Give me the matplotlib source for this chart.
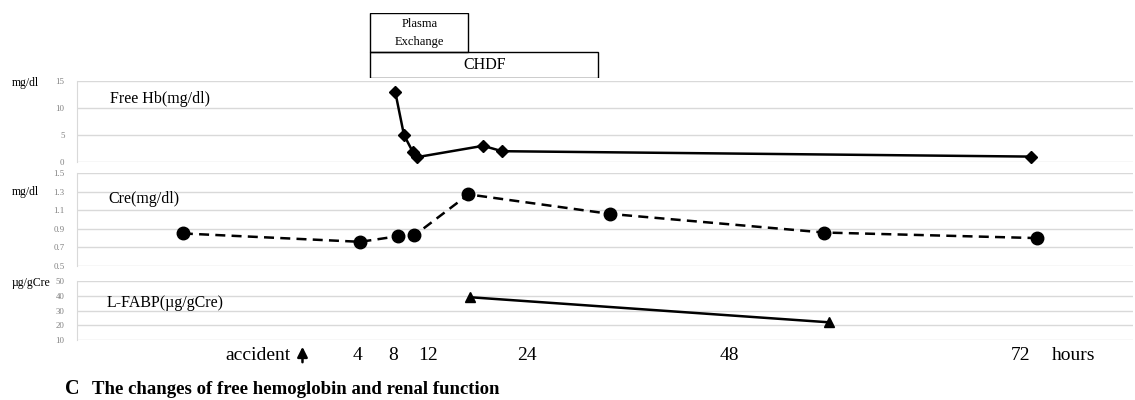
import numpy as np
import matplotlib
matplotlib.use("Agg")
import matplotlib.pyplot as plt
from matplotlib.patches import Rectangle
import matplotlib.transforms as mtransforms

plt.rcParams['font.family'] = ['Liberation Serif', 'DejaVu Serif']

# ---- data (time in hours after accident) ----
hb_hours = [8.2, 9.2, 10.2, 10.7, 18.7, 21.0, 72.9]
hb_vals = [13.0, 5.0, 1.9, 0.9, 3.0, 2.0, 1.0]

cre_hours = [-8.7, 4.3, 8.5, 10.4, 16.9, 33.9, 55.8, 73.4]
cre_vals = [0.85, 0.76, 0.82, 0.83, 1.27, 1.06, 0.86, 0.80]

lfabp_hours = [17.1, 56.2]
lfabp_vals = [39, 22]

tick_hours = [4, 8, 12, 24, 48, 72]
tick_labels = ['4', '8', '12', '24', '48', '72']

plasma_span = (5.4, 16.9)
chdf_span = (5.4, 32.5)

# ---- nonlinear time axis (as drawn in the original) ----
anchor_h = np.array([-20, 0, 4, 8, 12, 24, 48, 72, 100], float)
anchor_p = np.array([27, 302, 357, 393, 428, 526, 729, 1020, 1359], float)

def fwd(x):
    return np.interp(x, anchor_h, anchor_p)

def inv(x):
    return np.interp(x, anchor_p, anchor_h)

XLIM = (-16.4, 81.3)

W, H = 1135, 400
fig = plt.figure(figsize=(W / 100, H / 100), dpi=100)

def ax_rect(left, top, right, bottom):
    return [left / W, 1 - bottom / H, (right - left) / W, (bottom - top) / H]

grid_c = '#d9d9d9'
tick_c = '#7f7f7f'

def style(ax, ylim, yticks, yfmt):
    ax.set_xscale('function', functions=(fwd, inv))
    ax.set_xlim(*XLIM)
    ax.set_ylim(*ylim)
    ax.set_yticks(yticks)
    ax.set_yticklabels([yfmt(v) for v in yticks], fontsize=6.3, color=tick_c)
    ax.tick_params(axis='y', length=0, pad=9)
    ax.set_xticks([])
    ax.grid(axis='y', color=grid_c, lw=1)
    for s in ['top', 'right', 'bottom']:
        ax.spines[s].set_visible(False)
    ax.spines['left'].set_color(grid_c)
    ax.set_axisbelow(True)

ax1 = fig.add_axes(ax_rect(77, 81, 1133, 162))
ax2 = fig.add_axes(ax_rect(77, 173, 1133, 266))
ax3 = fig.add_axes(ax_rect(77, 281, 1133, 340))

style(ax1, (0, 15), [0, 5, 10, 15], lambda v: f'{v:g}')
style(ax2, (0.5, 1.5), [0.5, 0.7, 0.9, 1.1, 1.3, 1.5], lambda v: f'{v:.1f}')
style(ax3, (10, 50), [10, 20, 30, 40, 50], lambda v: f'{v:g}')

ax1.plot(hb_hours, hb_vals, color='black', lw=1.8, marker='D', ms=6,
         clip_on=False)
ax2.plot(cre_hours, cre_vals, color='black', lw=1.8, ls=(0, (4, 2.5)),
         marker='o', ms=9, clip_on=False)
ax3.plot(lfabp_hours, lfabp_vals, color='black', lw=1.8, marker='^', ms=7.5,
         clip_on=False)

lab_fs = 11.5
ax1.text(110 / W, 1 - 99 / H, 'Free Hb(mg/dl)', transform=fig.transFigure,
         fontsize=lab_fs, va='center', ha='left')
ax2.text(108 / W, 1 - 199 / H, 'Cre(mg/dl)', transform=fig.transFigure,
         fontsize=lab_fs, va='center', ha='left')
ax3.text(107 / W, 1 - 303 / H, 'L-FABP(µg/gCre)', transform=fig.transFigure,
         fontsize=lab_fs, va='center', ha='left')

# unit labels
fig.text(12 / W, 1 - 83 / H, 'mg/dl', fontsize=8.5, va='center', ha='left')
fig.text(12 / W, 1 - 192 / H, 'mg/dl', fontsize=8.5, va='center', ha='left')
fig.text(12 / W, 1 - 283 / H, 'µg/gCre', fontsize=8.5, va='center', ha='left')

# treatment boxes
axb = fig.add_axes(ax_rect(77, 13, 1133, 78))
axb.set_xscale('function', functions=(fwd, inv))
axb.set_xlim(*XLIM)
axb.set_ylim(0, 1)
axb.axis('off')
split = 26 / 65
axb.add_patch(Rectangle((plasma_span[0], split), plasma_span[1] - plasma_span[0],
                        1 - split, fill=False, ec='black', lw=1.0))
axb.add_patch(Rectangle((chdf_span[0], 0), chdf_span[1] - chdf_span[0],
                        split, fill=False, ec='black', lw=1.0))
plasma_mid = inv((fwd(plasma_span[0]) + fwd(plasma_span[1])) / 2)
axb.text(plasma_mid, 1 - 11 / 65, 'Plasma', ha='center', va='center', fontsize=9)
axb.text(plasma_mid, 1 - 29 / 65, 'Exchange', ha='center', va='center', fontsize=9)
chdf_mid = inv((fwd(chdf_span[0]) + fwd(chdf_span[1])) / 2)
axb.text(chdf_mid, split / 2, 'CHDF', ha='center', va='center', fontsize=11.5)

# time labels under the bottom panel
trans = mtransforms.blended_transform_factory(ax3.transData, fig.transFigure)
ty = 1 - 355 / H
for h, lab in zip(tick_hours, tick_labels):
    ax3.text(h, ty, lab, transform=trans, ha='center', va='center', fontsize=14)
ax3.text(inv(1073), ty, 'hours', transform=trans, ha='center', va='center',
         fontsize=14)
ax3.text(inv(290), ty, 'accident', transform=trans, ha='right', va='center',
         fontsize=14)
ax3.annotate('', xy=(0, 1 - 344 / H), xytext=(0, 1 - 365 / H),
             xycoords=trans, textcoords=trans,
             arrowprops=dict(arrowstyle='-|>,head_width=0.3,head_length=0.6',
                             color='black', lw=1.8))

# caption
fig.text(65 / W, 1 - 389 / H, 'C', fontsize=14.5, fontweight='bold',
         va='center', ha='left')
fig.text(92 / W, 1 - 389 / H, 'The changes of free hemoglobin and renal function',
         fontsize=13.5, fontweight='bold', va='center', ha='left')

fig.savefig('out.png', dpi=100)
